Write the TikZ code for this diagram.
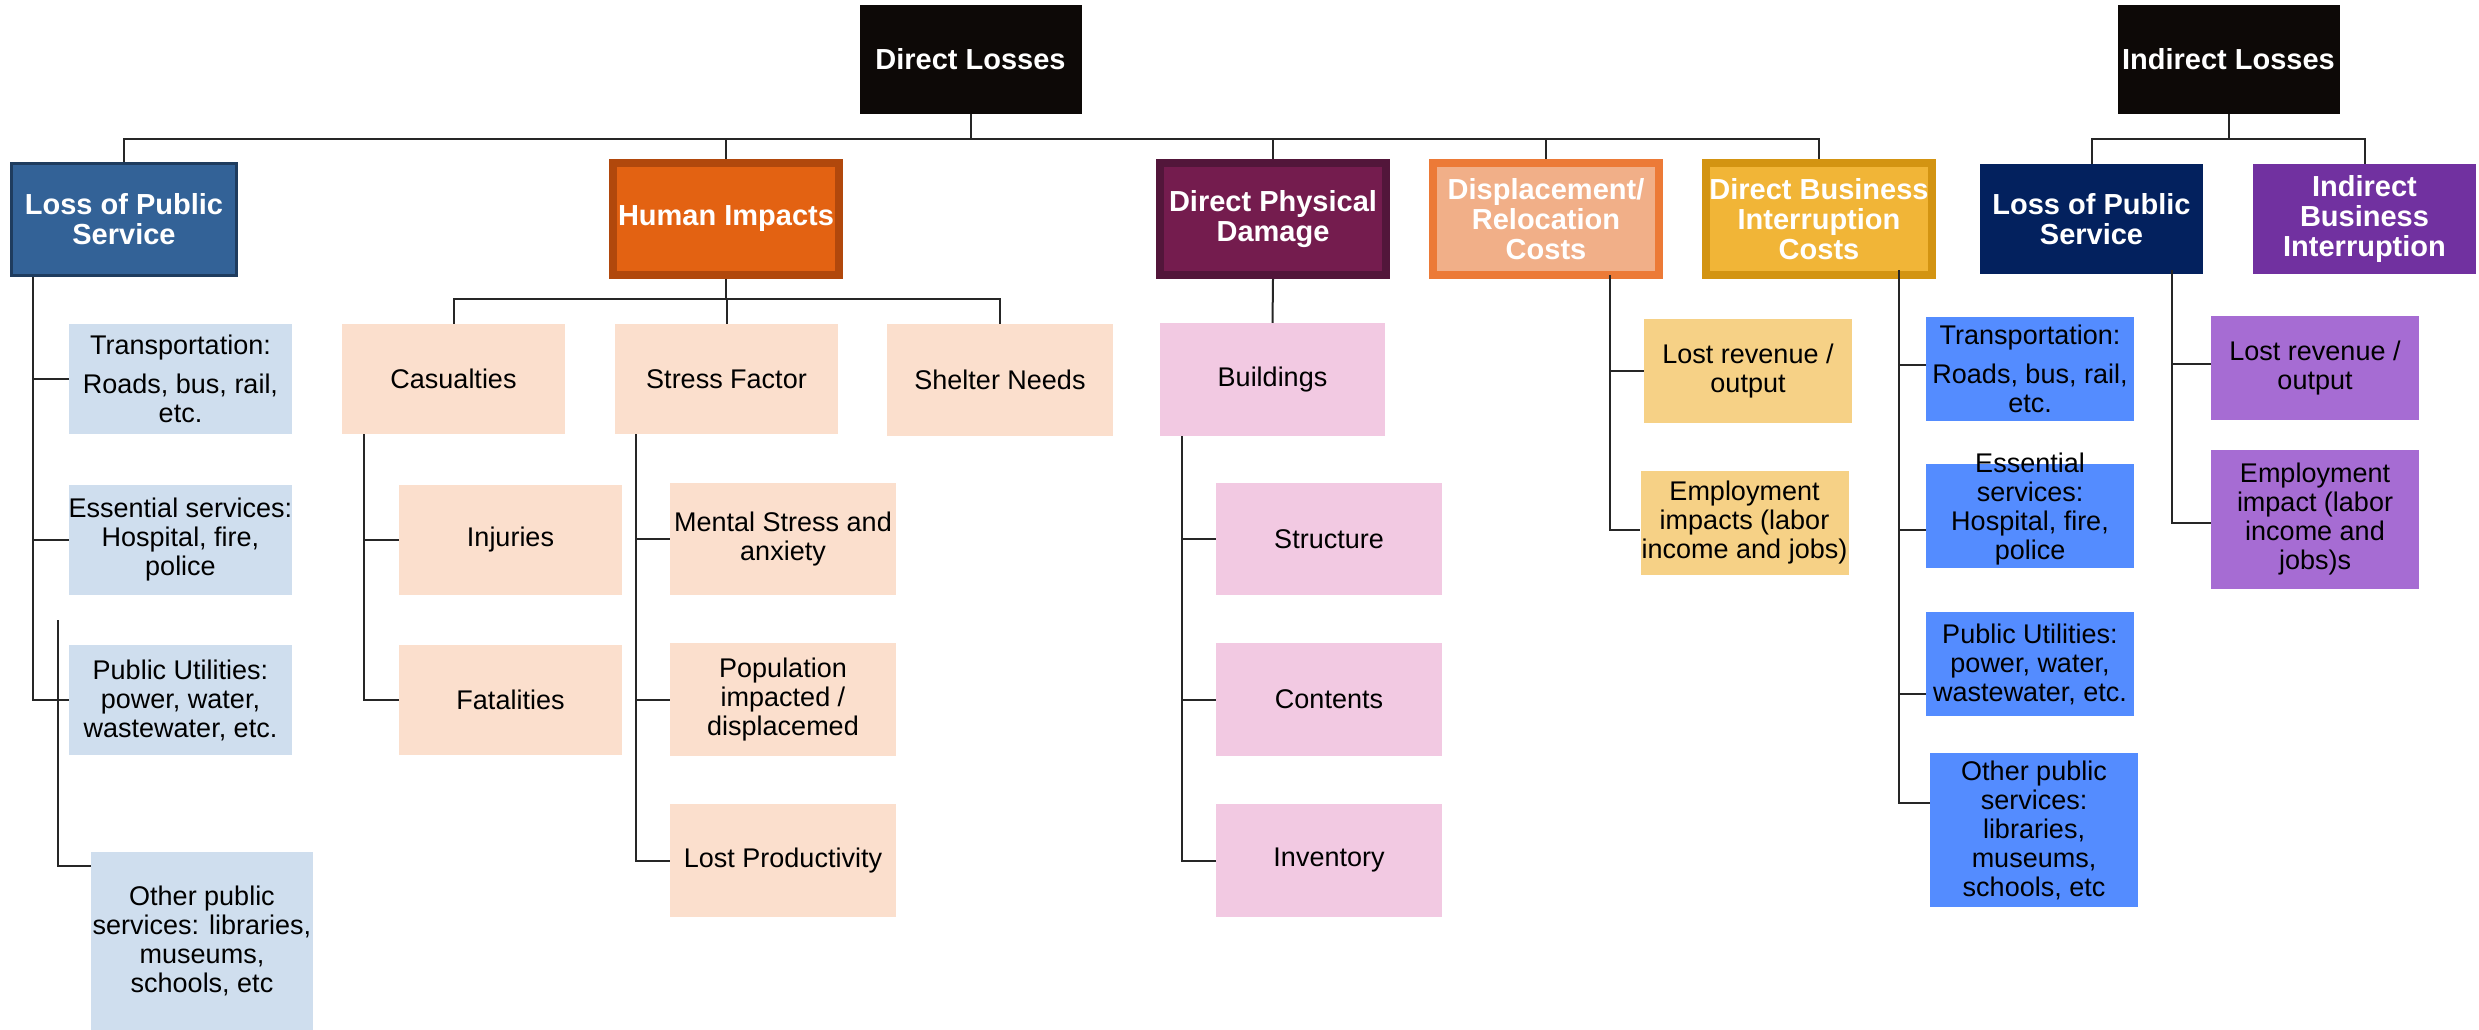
\documentclass[tikz,border=0pt]{standalone}
\usepackage{fontspec}
\setmainfont{Liberation Sans}
\usepackage{tikz}
\definecolor{headblack}{HTML}{0D0907}
\definecolor{lpsblue}{HTML}{336297}
\definecolor{lpsedge}{HTML}{1F3C5E}
\definecolor{humfill}{HTML}{E36212}
\definecolor{humedge}{HTML}{B1480C}
\definecolor{dpdfill}{HTML}{741C4E}
\definecolor{dpdedge}{HTML}{52163A}
\definecolor{disfill}{HTML}{F1AF88}
\definecolor{disedge}{HTML}{EC7A37}
\definecolor{dbifill}{HTML}{F1B537}
\definecolor{dbiedge}{HTML}{D39412}
\definecolor{navy}{HTML}{03215E}
\definecolor{ibipurple}{HTML}{7131A0}
\definecolor{lightblue}{HTML}{CFDEEE}
\definecolor{peach}{HTML}{FBDFCD}
\definecolor{pink}{HTML}{F2C9E2}
\definecolor{sand}{HTML}{F6D186}
\definecolor{brightblue}{HTML}{548CFF}
\definecolor{lavender}{HTML}{A66CD3}

\begin{document}
\begin{tikzpicture}[x=1pt, y=-1pt,
	top/.style={fill=headblack, text=white, font=\bfseries\fontsize{29}{30}\selectfont, minimum width=222pt, minimum height=109pt, inner sep=0pt},
	lvl/.style={text=white, font=\bfseries\fontsize{29}{30}\selectfont, align=center, inner sep=0pt},
	leaf/.style={text=black, font=\fontsize{27}{29}\selectfont, align=center, inner sep=0pt, minimum width=223pt, minimum height=110pt},
	small/.style={leaf, minimum width=208pt, minimum height=104pt},
	link/.style={draw=black!85, line width=2pt}]
	\useasboundingbox (0,0) rectangle (2479,1030);
	\node[top] (dl) at (970.5,59.5) {Direct Losses};
	\node[top] (il) at (2228.5,59.5) {Indirect Losses};
	\node[lvl, fill=lpsblue, draw=lpsedge, line width=3pt, minimum width=225pt, minimum height=112pt] (lps) at (124,219.5) {Loss of Public\\Service};
	\node[lvl, fill=humfill, draw=humedge, line width=8pt, minimum width=226pt, minimum height=112pt] (hum) at (726,219) {Human Impacts};
	\node[lvl, fill=dpdfill, draw=dpdedge, line width=8pt, minimum width=226pt, minimum height=112pt] (dpd) at (1273,219) {Direct Physical\\Damage};
	\node[lvl, fill=disfill, draw=disedge, line width=8pt, minimum width=226pt, minimum height=112pt] (dis) at (1546,219) {Displacement/\\Relocation\\Costs};
	\node[lvl, fill=dbifill, draw=dbiedge, line width=8pt, minimum width=226pt, minimum height=112pt] (dbi) at (1819,219) {Direct Business\\Interruption\\Costs};
	\node[lvl, fill=navy, minimum width=223pt, minimum height=110pt] (ilps) at (2091.5,219) {Loss of Public\\Service};
	\node[lvl, fill=ibipurple, minimum width=223pt, minimum height=110pt] (ibi) at (2364.5,219) {Indirect\\Business\\Interruption};
	\node[leaf, fill=lightblue] (trn) at (180.5,379) {Transportation:\\[10pt]Roads, bus, rail,\\etc.};
	\node[leaf, fill=lightblue] (ess) at (180.5,540) {Essential services:\\Hospital, fire,\\police};
	\node[leaf, fill=lightblue] (utl) at (180.5,700) {Public Utilities:\\power, water,\\wastewater, etc.};
	\node[leaf, fill=lightblue, minimum width=222pt, minimum height=178pt] (oth) at (202,941) {Other public\\services: libraries,\\museums,\\schools, etc};
	\node[leaf, fill=peach] (cas) at (453.5,379) {Casualties};
	\node[leaf, fill=peach] (inj) at (510.5,540) {Injuries};
	\node[leaf, fill=peach] (fat) at (510.5,700) {Fatalities};
	\node[leaf, fill=peach] (str) at (726.5,379) {Stress Factor};
	\node[leaf, fill=peach, minimum width=226pt, minimum height=112pt] (she) at (1000,380) {Shelter Needs};
	\node[leaf, fill=peach, minimum width=226pt, minimum height=112pt] (men) at (783,539) {Mental Stress and\\anxiety};
	\node[leaf, fill=peach, minimum width=226pt, minimum height=113pt] (pop) at (783,699.5) {Population\\impacted /\\displacemed};
	\node[leaf, fill=peach, minimum width=226pt, minimum height=113pt] (lpr) at (783,860.5) {Lost Productivity};
	\node[leaf, fill=pink, minimum width=225pt, minimum height=113pt] (bld) at (1272.5,379.5) {Buildings};
	\node[leaf, fill=pink, minimum width=226pt, minimum height=112pt] (stc) at (1329,539) {Structure};
	\node[leaf, fill=pink, minimum width=226pt, minimum height=113pt] (con) at (1329,699.5) {Contents};
	\node[leaf, fill=pink, minimum width=226pt, minimum height=113pt] (inv) at (1329,860.5) {Inventory};
	\node[small, fill=sand] (drev) at (1748,371) {Lost revenue /\\output};
	\node[small, fill=sand] (demp) at (1744.5,523) {Employment\\impacts (labor\\income and jobs)};
	\node[small, fill=brightblue] (btrn) at (2030,369) {Transportation:\\[10pt]Roads, bus, rail,\\etc.};
	\node[small, fill=brightblue] (bess) at (2030,516) {\smash{\begin{tabular}{@{}c@{}}Essential\\services:\\Hospital, fire,\\police\end{tabular}}};
	\node[small, fill=brightblue] (butl) at (2030,664) {Public Utilities:\\power, water,\\wastewater, etc.};
	\node[small, fill=brightblue, minimum height=154pt] (both) at (2034,830) {Other public\\services:\\libraries,\\museums,\\schools, etc};
	\node[small, fill=lavender] (irev) at (2315,368) {Lost revenue /\\output};
	\node[small, fill=lavender, minimum height=139pt] (iemp) at (2315,519.5) {Employment\\impact (labor\\income and\\jobs)s};
	\foreach \n in {lps,hum,dpd,dis,dbi}
		\draw[link] (dl.south) -- ++(0,25) -| (\n.north);
	\foreach \n in {ilps,ibi}
		\draw[link] (il.south) -- ++(0,25) -| (\n.north);
	\foreach \n in {cas,str,she}
		\draw[link] (hum.south) -- ++(0,20) -| (\n.north);
	\draw[link] (dpd.south) -- (bld.north);
	\coordinate (lps-v) at (lps.south -| 33,0);
	\coordinate (lps-w) at (58,620);
	\coordinate (cas-v) at (cas.south -| 364,0);
	\coordinate (str-v) at (str.south -| 636,0);
	\coordinate (bld-v) at (bld.south -| 1182,0);
	\coordinate (dis-v) at (1610,275);
	\coordinate (dbi-v) at (1899,270);
	\coordinate (ilps-v) at (2172,270);
	\foreach \n in {trn,ess,utl}
		\draw[link] (lps-v) |- (\n.west);
	\draw[link] (lps-w) |- ([yshift=75pt]oth.west);
	\foreach \n in {inj,fat}
		\draw[link] (cas-v) |- (\n.west);
	\foreach \n in {men,pop,lpr}
		\draw[link] (str-v) |- (\n.west);
	\foreach \n in {stc,con,inv}
		\draw[link] (bld-v) |- (\n.west);
	\draw[link] (dis-v) |- (drev.west);
	\draw[link] (dis-v) |- ([yshift=-7pt]demp.west);
	\draw[link] (dbi-v) |- ([yshift=4pt]btrn.west);
	\draw[link] (dbi-v) |- ([yshift=-14pt]bess.west);
	\draw[link] (dbi-v) |- ([yshift=-30pt]butl.west);
	\draw[link] (dbi-v) |- ([yshift=27pt]both.west);
	\draw[link] (ilps-v) |- ([yshift=4pt]irev.west);
	\draw[link] (ilps-v) |- ([yshift=-3.5pt]iemp.west);
\end{tikzpicture}
\end{document}
